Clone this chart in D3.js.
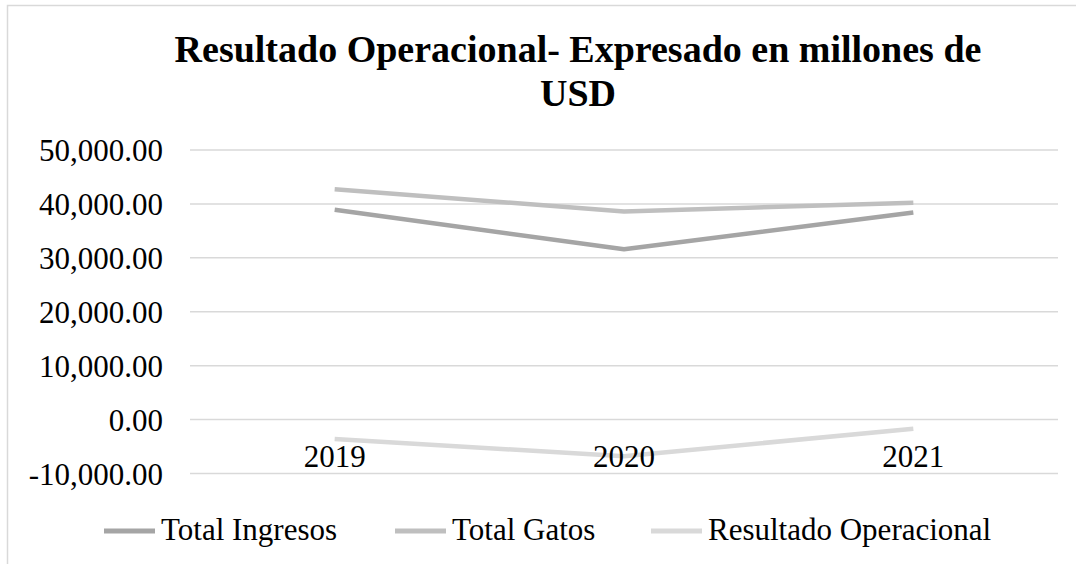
<!DOCTYPE html>
<html>
<head>
<meta charset="utf-8">
<script src="https://cdn.jsdelivr.net/npm/d3@7"></script>
<style>
  body { margin: 0; background: #fff; }
</style>
</head>
<body>
<svg id="chart" width="1076" height="564"></svg>
<script>
// chart data
var years = ["2019", "2020", "2021"];
var ingresos = [38900, 31600, 38400];
var gastos = [42700, 38600, 40200];
var resultado = [-3600, -6800, -1700];
var seriesNames = ["Total Ingresos", "Total Gatos", "Resultado Operacional"];
var yTicks = [-10000, 0, 10000, 20000, 30000, 40000, 50000];
var titleLines = ["Resultado Operacional- Expresado en millones de", "USD"];

var colors = ["#a5a5a5", "#bfbfbf", "#d9d9d9"];
var allSeries = [ingresos, gastos, resultado];
var serif = "Liberation Serif";

var svg = d3.select('#chart');

// outer chart border
svg.append("rect")
    .attr("x", 7.5).attr("y", 5.5)
    .attr("width", 1200).attr("height", 700)
    .style("fill", "none")
    .style("stroke", "#d9d9d9")
    .style("stroke-width", 1.5);

// plot area
var left = 190, right = 1058;
var y = d3.scaleLinear().domain([-10000, 50000]).range([473.5, 150]);
var x = d3.scaleBand().domain(years).range([left, right]).padding(0);

var fmt = d3.formatLocale({decimal: ".", thousands: ",", grouping: [3], currency: ["$", ""], minus: "-"}).format(",.2f");

// gridlines
svg.append("g")
    .selectAll("line")
    .data(yTicks)
    .join("line")
    .attr("x1", left).attr("x2", right)
    .attr("y1", function(d) { return y(d); })
    .attr("y2", function(d) { return y(d); })
    .style("stroke", "#d9d9d9")
    .style("stroke-width", 1.5);

// series lines
var line = d3.line()
    .x(function(d, i) { return x(years[i]) + x.bandwidth() / 2; })
    .y(function(d) { return y(d); });

svg.append("g")
    .selectAll("path")
    .data(allSeries)
    .join("path")
    .attr("d", line)
    .style("fill", "none")
    .style("stroke", function(d, i) { return colors[i]; })
    .style("stroke-width", 4.5)
    .style("stroke-linejoin", "round");

// y axis labels
var yAxis = d3.axisLeft(y).tickValues(yTicks).tickFormat(fmt).tickSize(0).tickPadding(27);
var gy = svg.append("g").attr("transform", "translate(" + left + ",0)").call(yAxis)
    .attr("font-family", serif).attr("font-size", 31);
gy.select(".domain").remove();
gy.selectAll("text")
    .style("font-family", serif)
    .style("font-size", "31px")
    .style("fill", "#000")
    .attr("dy", "0.34em");

// category labels (below the zero line, drawn over the lines)
var xAxis = d3.axisBottom(x).tickSize(0).tickPadding(25);
var gx = svg.append("g").attr("transform", "translate(0," + y(0) + ")").call(xAxis)
    .attr("font-family", serif).attr("font-size", 31);
gx.select(".domain").remove();
gx.selectAll("text")
    .style("font-family", serif)
    .style("font-size", "31px")
    .style("fill", "#000");

// title
svg.append("text")
    .attr("x", 578)
    .attr("y", 62)
    .attr("text-anchor", "middle")
    .style("font-family", serif)
    .style("font-size", "38px")
    .style("font-weight", "bold")
    .selectAll("tspan")
    .data(titleLines)
    .join("tspan")
    .attr("x", 578)
    .attr("dy", function(d, i) { return i === 0 ? 0 : 44; })
    .text(function(d) { return d; });

// legend
var legendX = [104, 395, 651];
var legend = svg.append("g")
    .selectAll("g")
    .data(seriesNames)
    .join("g")
    .attr("transform", function(d, i) { return "translate(" + legendX[i] + ",531)"; });
legend.append("line")
    .attr("x1", 0).attr("x2", 51)
    .style("stroke", function(d, i) { return colors[i]; })
    .style("stroke-width", 5);
legend.append("text")
    .attr("x", 57)
    .attr("dy", "0.28em")
    .style("font-family", serif)
    .style("font-size", "31px")
    .text(function(d) { return d; });
</script>
</body>
</html>
